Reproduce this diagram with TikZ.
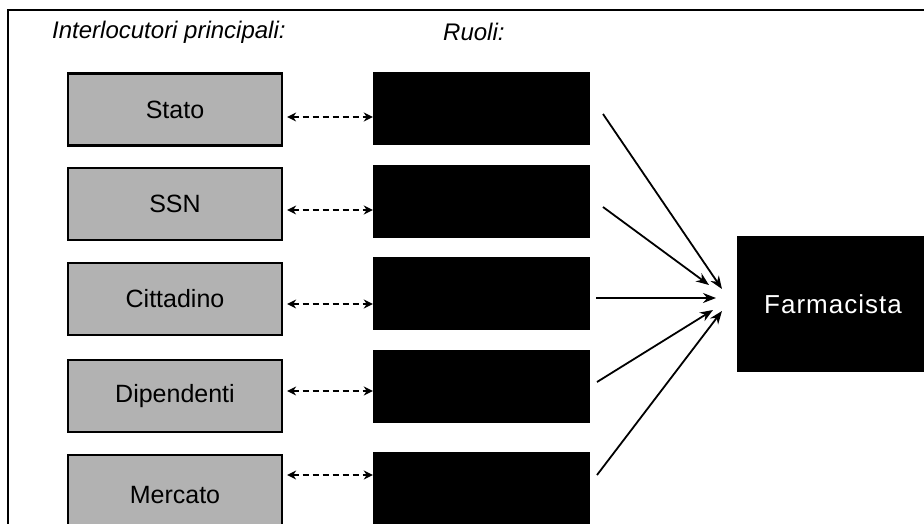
\documentclass[tikz,border=0pt]{standalone}
\usepackage{fontspec}
\setmainfont{Liberation Sans}
\usetikzlibrary{arrows.meta}
\begin{document}
\begin{tikzpicture}[x=1pt,y=-1pt,
  interbox/.style={draw=black, line width=2.2pt, fill=black!30, minimum width=214pt, minimum height=72pt, inner sep=0pt, font=\fontsize{25}{29}\selectfont, text=black},
  rolebox/.style={fill=black, draw=none, minimum width=217pt, minimum height=73pt, inner sep=0pt},
  headtext/.style={font=\fontsize{24}{28}\selectfont\itshape, anchor=west, inner sep=0pt},
  dasharrow/.style={line width=2.2pt, dash pattern=on 6pt off 4pt, {Stealth[length=9pt,width=9pt]}-{Stealth[length=9pt,width=9pt]}},
  solidarrow/.style={line width=1.8pt, -{Stealth[length=13pt,width=10pt]}}
]
\useasboundingbox (0,0) rectangle (924,523);
\clip (0,0) rectangle (924,523);
% frame
\draw[line width=1.8pt] (8,560) -- (8,10) -- (960,10);
% headings
\node[headtext] (h1) at (52,32) {Interlocutori principali:};
\node[headtext] (h2) at (443,32) {Ruoli:};
% interlocutor boxes
\node[interbox] (i1) at (175,109.5) {Stato};
\node[interbox] (i2) at (175,204) {SSN};
\node[interbox] (i3) at (175,299) {Cittadino};
\node[interbox] (i4) at (175,396) {Dipendenti};
\node[interbox, minimum height=80pt] (i5) at (175,495) {Mercato};
% role boxes
\node[rolebox] (r1) at (481.5,108.5) {};
\node[rolebox] (r2) at (481.5,201.5) {};
\node[rolebox] (r3) at (481.5,293.5) {};
\node[rolebox] (r4) at (481.5,386.5) {};
\node[rolebox, minimum height=90pt] (r5) at (481.5,497) {};
% pharmacist
\node[fill=black, minimum width=192pt, minimum height=136pt, inner sep=0pt, text=white, font=\fontsize{26}{30}\selectfont] (f) at (833,304) {F\kern1pt a\kern1pt r\kern1pt m\kern1pt a\kern1pt c\kern1pt i\kern1pt s\kern1pt t\kern1pt a};
% dashed links
\coordinate (d1) at (0,117);
\coordinate (d2) at (0,210);
\coordinate (d3) at (0,304);
\coordinate (d4) at (0,391);
\coordinate (d5) at (0,475);
\draw[dasharrow, shorten <=4pt] (i1.east |- d1) -- (r1.west |- d1);
\draw[dasharrow, shorten <=4pt] (i2.east |- d2) -- (r2.west |- d2);
\draw[dasharrow, shorten <=4pt] (i3.east |- d3) -- (r3.west |- d3);
\draw[dasharrow, shorten <=4pt] (i4.east |- d4) -- (r4.west |- d4);
\draw[dasharrow, shorten <=4pt] (i5.east |- d5) -- (r5.west |- d5);
% arrows to pharmacist
\coordinate (s1) at (603,114);
\coordinate (s2) at (603,207);
\coordinate (s3) at (596,298);
\coordinate (s4) at (597,382);
\coordinate (s5) at (597,475);
\coordinate (t1) at (722,289);
\coordinate (t2) at (709,285);
\coordinate (t3) at (716,298);
\coordinate (t4) at (713,310);
\coordinate (t5) at (722,311);
\draw[solidarrow] (s1) -- (t1);
\draw[solidarrow] (s2) -- (t2);
\draw[solidarrow] (s3) -- (t3);
\draw[solidarrow] (s4) -- (t4);
\draw[solidarrow] (s5) -- (t5);
\end{tikzpicture}
\end{document}
